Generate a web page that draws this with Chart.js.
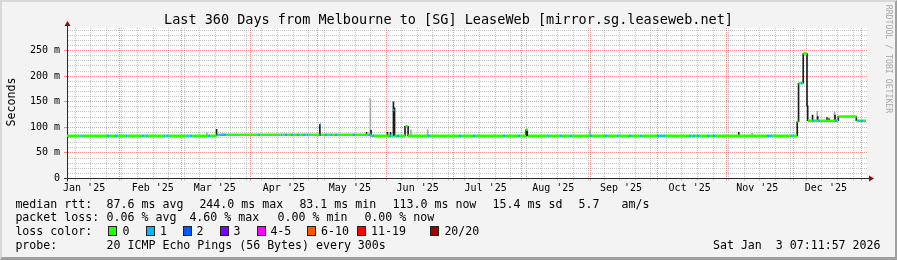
<!DOCTYPE html>
<html><head><meta charset="utf-8">
<script src="https://cdn.jsdelivr.net/npm/chart.js@4/dist/chart.umd.min.js"></script>
<style>
html,body{margin:0;padding:0;background:#f3f3f3;}
#wrap{position:relative;width:897px;height:260px;background:#f3f3f3;overflow:hidden;font-family:"DejaVu Sans Mono",monospace;color:#000;box-sizing:border-box;}
#c{position:absolute;left:0;top:0;}
.t{position:absolute;white-space:pre;font-size:11.6px;line-height:11.6px;}
.sq{position:absolute;width:7px;height:8px;border:1px solid #222;}
#title{position:absolute;left:0;top:12.6px;width:897px;text-align:center;font-size:13.5px;line-height:13.5px;white-space:pre;}
#ytitle{position:absolute;left:-19px;top:96px;width:60px;height:12px;line-height:12px;font-size:11.6px;text-align:center;transform:rotate(-90deg);}
#wm{position:absolute;left:829px;top:54px;width:120px;height:10px;line-height:10px;font-size:8.2px;text-align:center;color:#a8a8a8;transform:rotate(90deg);white-space:pre;}
#bl{position:absolute;left:0;top:0;width:897px;height:260px;box-sizing:border-box;border-style:solid;border-width:2px 2px 3px 2px;border-color:#d8d8d8 #a0a0a0 #a0a0a0 #d8d8d8;pointer-events:none;}
</style></head>
<body>
<div id="wrap">
<canvas id="c" width="897" height="260"></canvas>
<div id="title">Last 360 Days from Melbourne to [SG] LeaseWeb [mirror.sg.leaseweb.net]</div>
<div id="ytitle">Seconds</div>
<div id="wm">RRDTOOL / TOBI OETIKER</div>
<div id="legend"></div>
<div id="bl"></div>
</div>
<script>
// ---- time axis: days since Wed Jan 8 2025 07:11 (360-day window) ----
const monthStartDays = [23.70, 51.70, 82.70, 112.70, 143.70, 173.70, 204.70, 235.70, 265.70, 296.70, 326.70, 357.70];
const monthLabels = ["Jan '25", "Feb '25", "Mar '25", "Apr '25", "May '25", "Jun '25", "Jul '25", "Aug '25", "Sep '25", "Oct '25", "Nov '25", "Dec '25"];
const monthLabelDays = [7.7, 38.6, 66.5, 97.6, 127.3, 157.8, 188.4, 218.8, 249.3, 280.2, 310.6, 341.5];
const firstSundayDay = 3.70;
const yTickLabels = ["0", "50 m", "100 m", "150 m", "200 m", "250 m"];

// ---- median RTT (ms), step changes: day -> value ----
const medianDays = [0, 67.4, 113.7, 114.2, 136.8, 146.8, 147.3, 152.3, 153.4, 206.6, 207.4, 328.6, 329.2, 331.3, 333.0, 333.4, 347.1, 355.3];
const medianMs   = [83.6, 85.6, 106, 85.6, 83.3, 134, 83.3, 102, 83.3, 95, 83.3, 111, 186, 244, 142, 113, 121, 113];
const medianEndDay = 359.6;

// ---- samples with 1 of 20 pings lost (cyan) ----
const loss1Days = [6.1, 18.0, 21.6, 26.3, 33.8, 35.6, 43.4, 44.8, 53.8, 55.4, 63.5, 67.4, 68.9, 69.8, 70.7, 86.0, 96.1, 98.1, 100.8, 103.5, 106.2, 107.8, 113.7, 116.1, 118.4, 120.6, 128.7, 135.5, 137.3, 144.9, 146.8, 148.5, 162.5, 176.4, 182.7, 196.2, 203.0, 215.9, 221.9, 226.4, 235.4, 242.1, 247.4, 252.9, 257.9, 265.5, 266.9, 268.2, 279.9, 281.7, 283.5, 288.0, 290.7, 315.0, 316.4, 325.7, 330.2, 335.6, 338.0, 345.6, 355.9, 357.3];

// ---- smoke (ping spread), dense = dark, sparse = light ----
const darkSmokeDays = [67.3, 113.8, 134.8, 136.8, 144.2, 145.6, 146.9, 147.4, 152.1, 153.5, 206.6, 207.1, 302.3, 328.6, 329.2, 331.3, 333.0, 333.3, 335.5, 337.8, 342.0, 342.9, 345.6, 347.1, 355.2];
const darkSmokeLow  = [83.6, 83.6, 83, 83, 83, 83, 83, 83, 83, 83, 83, 83, 83, 83, 111, 186, 142, 113, 113, 113, 113, 113, 113, 113, 113];
const darkSmokeHigh = [96, 106, 90, 94, 90, 90, 150, 138, 102, 102, 95, 95, 90, 111, 186, 244, 244, 142, 124, 121, 119, 117, 124, 121, 121];
const lightSmokeDays = [62.9, 136.5, 154.8, 162.3, 235.4, 308.3, 337.6, 345.4];
const lightSmokeLow  = [83, 83, 83, 83, 83, 84, 113, 113];
const lightSmokeHigh = [90, 156, 95, 95, 95, 88, 131, 130];

// ---- legend ----
const lossColorLabels = ["0", "1", "2", "3", "4-5", "6-10", "11-19", "20/20"];
const lossColors = ["#26ff00", "#00b8ff", "#0059ff", "#7e00ff", "#ff00ff", "#ff5500", "#ff0000", "#a10000"];

// ---------- build ----------
const LOSS_W = 0.9;
function medianAt(d){ let v = medianMs[0]; for (let i=0;i<medianDays.length;i++){ if (medianDays[i] <= d + 1e-9) v = medianMs[i]; } return v; }
function isLoss(d){ return loss1Days.some(s => d >= s - 1e-9 && d < s + LOSS_W - 1e-9); }
let bounds = new Set([...medianDays, medianEndDay]);
loss1Days.forEach(s => { bounds.add(s); bounds.add(+(s + LOSS_W).toFixed(3)); });
bounds = [...bounds].filter(b => b <= medianEndDay).sort((a,b)=>a-b);
const greenData = [], cyanData = [];
for (let i=0;i<bounds.length-1;i++){
  const a = bounds[i], b = bounds[i+1], v = medianAt(a);
  const arr = isLoss(a) ? cyanData : greenData;
  arr.push({x:a,y:v},{x:b,y:v},{x:b,y:null});
}
const darkData = darkSmokeDays.map((d,i)=>({x:d, y:[darkSmokeLow[i], darkSmokeHigh[i]]}));
const lightData = lightSmokeDays.map((d,i)=>({x:d, y:[lightSmokeLow[i], lightSmokeHigh[i]]}));

// x ticks: weekly minor lines, month-start major lines, mid-month labels
const xTicks = [];
for (let d = firstSundayDay; d < 360; d += 7) {
  if (!monthStartDays.some(m => Math.abs(m - d) < 0.01)) xTicks.push({value:+d.toFixed(3), kind:'w', lab:''});
}
monthStartDays.forEach(m => xTicks.push({value:m, kind:'m', lab:''}));
monthLabelDays.forEach((m,i) => xTicks.push({value:m, kind:'l', lab:monthLabels[i]}));
xTicks.sort((a,b)=>a.value-b.value);

const MAJ = 'rgba(255,70,70,0.6)';
const MIN = 'rgba(140,140,140,0.5)';
const CLEAR = 'rgba(0,0,0,0)';
const AXIS = '#2a2a2a';
const ARROW = '#8a0a0a';

const bgPlugin = {
  id:'plotbg',
  beforeDraw(chart){
    const {ctx, chartArea:a} = chart;
    ctx.save(); ctx.fillStyle = '#ffffff';
    ctx.fillRect(a.left, a.top, a.right - a.left, a.bottom - a.top);
    ctx.restore();
  }
};
const axisPlugin = {
  id:'arrows',
  afterDraw(chart){
    const {ctx} = chart;
    const xs = chart.scales.x, ys = chart.scales.y;
    const ax = Math.round(ys.right - 0.5) + 0.5;
    const ay = Math.round(xs.top - 0.5) + 0.5;
    const top = chart.chartArea.top, right = chart.chartArea.right;
    ctx.save();
    ctx.strokeStyle = AXIS; ctx.lineWidth = 1;
    ctx.beginPath();
    ctx.moveTo(ax, top); ctx.lineTo(ax, top - 3);
    ctx.moveTo(right, ay); ctx.lineTo(right + 3, ay);
    ctx.moveTo(ax, ay); ctx.lineTo(ax, ay + 3);
    ctx.stroke();
    ctx.fillStyle = ARROW;
    ctx.beginPath();
    ctx.moveTo(ax - 3, top - 2); ctx.lineTo(ax + 3, top - 2); ctx.lineTo(ax, top - 7); ctx.closePath(); ctx.fill();
    ctx.beginPath();
    ctx.moveTo(right + 2, ay - 3); ctx.lineTo(right + 2, ay + 3); ctx.lineTo(right + 7, ay); ctx.closePath(); ctx.fill();
    ctx.restore();
  }
};

const FONT = {family:'DejaVu Sans Mono', size:10};
new Chart(document.getElementById('c'), {
  type:'line',
  data:{ datasets:[
    {type:'line', label:'loss 1', data:cyanData, borderColor:lossColors[1], borderWidth:2.5, pointRadius:0, spanGaps:false, tension:0, borderCapStyle:'butt', order:0},
    {type:'line', label:'loss 0', data:greenData, borderColor:lossColors[0], borderWidth:2.5, pointRadius:0, spanGaps:false, tension:0, borderCapStyle:'butt', order:1},
    {type:'bar', label:'smoke dense', data:darkData, backgroundColor:'#1c1c1c', barThickness:1, grouped:false, order:2},
    {type:'bar', label:'smoke sparse', data:lightData, backgroundColor:'#a8a8a8', barThickness:1, grouped:false, order:3}
  ]},
  options:{
    responsive:false, animation:false, events:[],
    layout:{padding:{top:28, right:30, left:0, bottom:0}},
    plugins:{legend:{display:false}, title:{display:false}, tooltip:{enabled:false}},
    scales:{
      x:{
        type:'linear', min:0, max:360, offset:false,
        afterBuildTicks:s => { s.ticks = xTicks.map(t => ({value:t.value, kind:t.kind, lab:t.lab})); },
        afterFit:s => { s.height = 81.5; },
        grid:{offset:false, lineWidth:1, drawTicks:true, tickLength:2,
          color:c => (c.tick && c.tick.kind==='m') ? MAJ : (c.tick && c.tick.kind==='w') ? MIN : CLEAR,
          tickColor:c => (c.tick && c.tick.kind==='m') ? MAJ : (c.tick && c.tick.kind==='w') ? MIN : CLEAR},
        border:{display:true, color:AXIS, width:1, dash:[1,1]},
        ticks:{autoSkip:false, maxRotation:0, minRotation:0, padding:2, color:'#000', font:FONT,
          callback:(v,i,ts) => ts[i].lab || ''}
      },
      y:{
        type:'linear', min:0, max:294, offset:false,
        afterFit:s => { s.width = 67; },
        grid:{lineWidth:1, drawTicks:true, tickLength:3,
          color:c => c.tick.value===0 ? CLEAR : (c.tick.value % 50 === 0 ? MAJ : MIN),
          tickColor:c => c.tick.value===0 ? AXIS : (c.tick.value % 50 === 0 ? MAJ : CLEAR)},
        border:{display:true, color:AXIS, width:1, dash:[1,1]},
        ticks:{stepSize:10, includeBounds:false, autoSkip:false, padding:4, color:'#000', font:FONT,
          callback:v => (v % 50 === 0 && v/50 < yTickLabels.length) ? yTickLabels[v/50] : ''}
      }
    }
  },
  plugins:[bgPlugin, axisPlugin]
});

// ---------- text legend (real text) ----------
const lg = document.getElementById('legend');
function txt(s, left, top){ const d = document.createElement('div'); d.className='t'; d.textContent=s; d.style.left=left+'px'; d.style.top=top+'px'; lg.appendChild(d); return d; }
const rowTop = [198.7, 212.4, 226.1, 239.8];
const rttItems = [["median rtt:",15.4],["87.6 ms avg",106.6],["244.0 ms max",199.4],["83.1 ms min",299.4],["113.0 ms now",392.6],["15.4 ms sd",492.6],["5.7",578.6],["am/s",621.6]];
const lossItems = [["packet loss:",15.4],["0.06 % avg",106.6],["4.60 % max",189.4],["0.00 % min",277.6],["0.00 % now",364.4]];
rttItems.forEach(([s,x]) => txt(s, x, rowTop[0]));
lossItems.forEach(([s,x]) => txt(s, x, rowTop[1]));
txt("loss color:", 15.4, rowTop[2]);
const sqLeft = [108.3, 145.7, 182.7, 220, 256.7, 307, 356.7, 430];
const sqLabelLeft = [122.6, 160, 196.4, 233.4, 270.4, 321, 371, 444.4];
lossColorLabels.forEach((l,i) => {
  const q = document.createElement('div'); q.className='sq'; q.style.left=sqLeft[i]+'px'; q.style.top='226px'; q.style.background=lossColors[i]; lg.appendChild(q);
  txt(l, sqLabelLeft[i], rowTop[2]);
});
txt("probe:", 15.4, rowTop[3]);
txt("20 ICMP Echo Pings (56 Bytes) every 300s", 106.6, rowTop[3]);
const dt = txt("Sat Jan  3 07:11:57 2026", 0, rowTop[3]); dt.style.left=''; dt.style.right='16.5px';
</script>
</body></html>
